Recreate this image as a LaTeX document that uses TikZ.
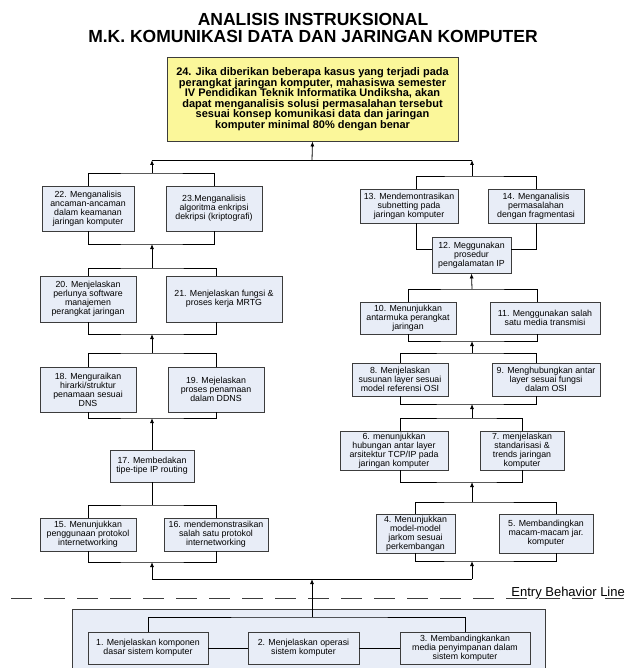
\documentclass[tikz,border=0pt]{standalone}
\usepackage{fontspec}
\setmainfont{Liberation Sans}
\usepackage{tikz}
\usetikzlibrary{arrows.meta}

\definecolor{celeste}{HTML}{E8EDF7}
\definecolor{amarillo}{HTML}{FBF79A}
\definecolor{borde}{HTML}{3C3C3C}

\tikzset{
  caja/.style={draw=borde, fill=celeste, line width=0.9pt, inner sep=1pt, align=center,
    font=\fontsize{8.8}{9}\selectfont},
  meta/.style={caja, fill=amarillo, font=\bfseries\fontsize{11}{10.5}\selectfont},
  flecha/.style={-{Latex[length=5pt,width=4pt]}},
}

\begin{document}
\begin{tikzpicture}[x=1pt, y=-1pt, line width=0.8pt]
  \useasboundingbox (0,0) rectangle (624,668);

  % Titulo
  \node[font=\bfseries\fontsize{17.5}{17}\selectfont, align=center] (titulo) at (313,28)
    {ANALISIS INSTRUKSIONAL\\M.K. KOMUNIKASI DATA DAN JARINGAN KOMPUTER};

  % Tujuan final
  \node[meta, minimum width=291pt, minimum height=84pt] (b24) at (312.5,99)
    {24. Jika diberikan beberapa kasus yang terjadi pada\\perangkat jaringan komputer, mahasiswa semester\\IV Pendidikan Teknik Informatika Undiksha, akan\\dapat menganalisis solusi permasalahan  tersebut\\sesuai konsep komunikasi data dan jaringan\\komputer minimal 80\% dengan benar};

  % Columna izquierda
  \node[caja, minimum width=92pt, minimum height=45pt] (b22) at (88,208.5)
    {22. Menganalisis\\ancaman-ancaman\\dalam keamanan\\jaringan komputer};
  \node[caja, minimum width=96pt, minimum height=45pt] (b23) at (214,208.5)
    {23.Menganalisis\\algoritma enkripsi\\dekripsi (kriptografi)};
  \node[caja, minimum width=96pt, minimum height=46pt] (b20) at (88,299)
    {20. Menjelaskan\\perlunya software\\manajemen\\perangkat  jaringan};
  \node[caja, minimum width=116pt, minimum height=46pt] (b21) at (224,299)
    {21. Menjelaskan fungsi \&\\proses kerja MRTG};
  \node[caja, minimum width=96pt, minimum height=45pt] (b18) at (88,389.5)
    {18. Menguraikan\\hirarki/struktur\\penamaan sesuai\\DNS};
  \node[caja, minimum width=96pt, minimum height=45pt] (b19) at (216,389.5)
    {19. Mejelaskan\\proses  penamaan\\dalam DDNS};
  \node[caja, minimum width=84pt, minimum height=32pt] (b17) at (152,466)
    {17. Membedakan\\tipe-tipe IP routing};
  \node[caja, minimum width=96pt, minimum height=33pt] (b15) at (88,534.5)
    {15. Menunjukkan\\penggunaan protokol\\internetworking};
  \node[caja, minimum width=104pt, minimum height=33pt] (b16) at (216,534.5)
    {16. mendemonstrasikan\\salah satu protokol\\internetworking};

  % Columna derecha
  \node[caja, minimum width=98pt, minimum height=34pt] (b13) at (409,206)
    {13. Mendemontrasikan\\subnetting pada\\jaringan komputer};
  \node[caja, minimum width=96pt, minimum height=34pt] (b14) at (536,206)
    {14. Menganalisis\\permasalahan\\dengan fragmentasi};
  \node[caja, minimum width=79pt, minimum height=36pt] (b12) at (471.5,255)
    {12. Meggunakan\\prosedur\\pengalamatan  IP};
  \node[caja, minimum width=96pt, minimum height=32pt] (b10) at (408,318)
    {10. Menunjukkan\\antarmuka perangkat\\jaringan};
  \node[caja, minimum width=110pt, minimum height=32pt] (b11) at (545,318)
    {11. Menggunakan salah\\satu media transmisi};
  \node[caja, minimum width=96pt, minimum height=33pt] (b8) at (400,379.5)
    {8. Menjelaskan\\susunan layer sesuai\\model referensi OSI};
  \node[caja, minimum width=108pt, minimum height=33pt] (b9) at (546,379.5)
    {9. Menghubungkan antar\\layer sesuai fungsi\\dalam OSI};
  \node[caja, minimum width=108pt, minimum height=39pt] (b6) at (394,450.5)
    {6. menunjukkan\\hubungan antar layer\\arsitektur  TCP/IP pada\\jaringan komputer};
  \node[caja, minimum width=84pt, minimum height=39pt] (b7) at (522,450.5)
    {7. menjelaskan\\standarisasi \&\\trends jaringan\\komputer};
  \node[caja, minimum width=79pt, minimum height=39pt] (b4) at (415.5,533.5)
    {4. Menunjukkan\\model-model\\jarkom sesuai\\perkembangan};
  \node[caja, minimum width=94pt, minimum height=39pt] (b5) at (546,533.5)
    {5. Membandingkan\\macam-macam jar.\\komputer};

  % Entry behavior
  \draw[borde, line width=0.9pt, dash pattern=on 21pt off 12pt] (11,598) -- (624,598);
  \node[anchor=base west, inner sep=0pt, font=\fontsize{13}{13}\selectfont] (ebl) at (511,596)
    {Entry Behavior Line};
  \node[caja, minimum width=473pt, minimum height=63pt] (eb) at (308.5,640.5) {};
  \node[caja, minimum width=120pt, minimum height=32pt] (b1) at (148,648)
    {1. Menjelaskan komponen\\dasar sistem komputer};
  \node[caja, minimum width=111pt, minimum height=32pt] (b2) at (303.5,648)
    {2. Menjelaskan operasi\\sistem komputer};
  \node[caja, minimum width=130pt, minimum height=32pt] (b3) at (465,648)
    {3. Membandingkankan\\media penyimpanan dalam\\sistem komputer};

  % Puntos de union
  \coordinate (jtop) at (312,160);
  \coordinate (jbot) at (312,579);
  \coordinate (t2223) at (152,173);
  \coordinate (s2223) at (152,244);
  \coordinate (t2021) at (152,268);
  \coordinate (s2021) at (152,334);
  \coordinate (t1819) at (152,353);
  \coordinate (s1819) at (152,418);
  \coordinate (t1516) at (152,505);
  \coordinate (s1516) at (152,562);
  \coordinate (t1314) at (472,176);
  \coordinate (t1011) at (472,289);
  \coordinate (s1011) at (472,341);
  \coordinate (t89) at (472,353);
  \coordinate (s89) at (472,404);
  \coordinate (t67) at (472,418);
  \coordinate (s67) at (472,482);
  \coordinate (t45) at (472,502);
  \coordinate (s45) at (472,561);
  \coordinate (t123) at (312,617);

  % Conectores izquierda
  \draw (b22.north) |- (t2223) -| (b23.north);
  \draw (b22.south) |- (s2223) -| (b23.south);
  \draw (b20.north) |- (t2021) -| ([xshift=-8pt]b21.north);
  \draw (b20.south) |- (s2021) -| ([xshift=-8pt]b21.south);
  \draw (b18.north) |- (t1819) -| (b19.north);
  \draw (b18.south) |- (s1819) -| (b19.south);
  \draw (b15.north) |- (t1516) -| (b16.north);
  \draw (b15.south) |- (s1516) -| (b16.south);
  \draw[flecha] (t2021) -- (s2223);
  \draw[flecha] (t1819) -- (s2021);
  \draw[flecha] (b17.north) -- (s1819);
  \draw (b17.south) -- (t1516);

  % Conectores derecha
  \draw ([xshift=7pt]b13.north) |- (t1314) -| (b14.north);
  \draw ([xshift=7pt]b13.south) |- ([yshift=6pt]b12.west);
  \draw (b14.south) |- ([yshift=6pt]b12.east);
  \draw (b10.north) |- (t1011) -| ([xshift=-8pt]b11.north);
  \draw (b10.south) |- (s1011) -| ([xshift=-8pt]b11.south);
  \draw (b8.north) |- (t89) -| ([xshift=-10pt]b9.north);
  \draw (b8.south) |- (s89) -| ([xshift=-10pt]b9.south);
  \draw ([xshift=6pt]b6.north) |- (t67) -| (b7.north);
  \draw ([xshift=6pt]b6.south) |- (s67) -| (b7.south);
  \draw (b4.north) |- (t45) -| ([xshift=10pt]b5.north);
  \draw (b4.south) |- (s45) -| ([xshift=10pt]b5.south);
  \draw[flecha] (t1011) -- (b12.south);
  \draw[flecha] (t89) -- (s1011);
  \draw[flecha] (t67) -- (s89);
  \draw[flecha] (t45) -- (s67);

  % Hacia la meta
  \draw (t2223 |- jtop) -- (t1314 |- jtop);
  \draw[flecha] (t2223) -- (t2223 |- jtop);
  \draw[flecha] (t1314) -- (t1314 |- jtop);
  \draw[flecha] (jtop) -- (b24.south);

  % Desde entry behavior
  \draw (b1.north) |- (t123) -| (b3.north);
  \draw (b1) -- (b2);
  \draw (b2) -- (b3);
  \draw[flecha] (t123) -- (jbot);
  \draw (s1516 |- jbot) -- (s45 |- jbot);
  \draw[flecha] (s1516 |- jbot) -- (s1516);
  \draw[flecha] (s45 |- jbot) -- (s45);
\end{tikzpicture}
\end{document}
